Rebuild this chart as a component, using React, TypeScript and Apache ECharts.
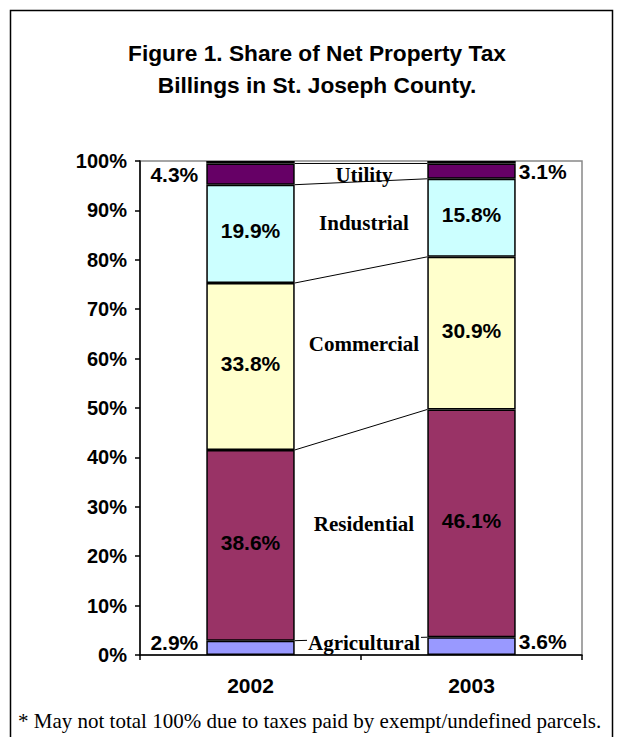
import React, { useEffect, useRef } from "react";
import * as echarts from "echarts";

const years = ["2002", "2003"];
const seriesNames = ["Agricultural", "Residential", "Commercial", "Industrial", "Utility", "Other"];
const agricultural = [2.9, 3.6];
const residential = [38.6, 46.1];
const commercial = [33.8, 30.9];
const industrial = [19.9, 15.8];
const utility = [4.3, 3.1];
const other = [0.5, 0.5];
const nameLabelLevels = [2.4, 26.5, 63.0, 87.5, 97.2];
const yTicks = { min: 0, max: 100, interval: 10 };

const colors = ["#9999FF", "#993366", "#FFFFCC", "#CCFFFF", "#660066", "#000000"];
const SANS = "Liberation Sans, Arial, sans-serif";
const SERIF = "Liberation Serif, Times New Roman, serif";
const BAR_FRAC = 0.4;

export default function App() {
  const ref = useRef<HTMLDivElement>(null);
  useEffect(() => {
    if (!ref.current) return;
    const chart = echarts.init(ref.current, null, { renderer: "svg" });
    const stacks = [agricultural, residential, commercial, industrial, utility, other];
    const tops: number[][] = [];
    const cum = [0, 0];
    for (let s = 0; s < 5; s++) {
      cum[0] += stacks[s][0];
      cum[1] += stacks[s][1];
      tops.push([0, +cum[0].toFixed(2), +cum[1].toFixed(2)]);
    }
    const labelFont = { fontFamily: SANS, fontWeight: "bold" as const, fontSize: 21, color: "#000" };
    const barSeries = stacks.map((vals, i) => {
      const outside = i === 0 || i === 4;
      const data = vals.map((v, j) => {
        if (outside) {
          return {
            value: v,
            label: {
              show: true,
              position: j === 0 ? "left" : "right",
              distance: j === 0 ? 8 : 3,
              offset: i === 0 ? [0, -5] : [0, 0],
            },
          };
        }
        return { value: v };
      });
      return {
        name: seriesNames[i],
        type: "bar",
        stack: "total",
        barWidth: BAR_FRAC * 100 + "%",
        itemStyle: { color: colors[i], borderColor: "#000", borderWidth: 1.5 },
        label: {
          show: i !== 5,
          position: "inside",
          offset: [0, -3],
          formatter: (p: any) => Number(p.value).toFixed(1) + "%",
          ...labelFont,
        },
        data,
        z: 2,
      };
    });
    const lineSeries = {
      type: "custom",
      coordinateSystem: "cartesian2d",
      encode: { x: 0, y: 1 },
      silent: true,
      z: 1,
      data: tops,
      renderItem: (params: any, api: any) => {
        const v1 = api.value(1);
        const v2 = api.value(2);
        const p1 = api.coord([0, v1]);
        const p2 = api.coord([1, v2]);
        const half = (api.size([1, 0])[0] * BAR_FRAC) / 2;
        return {
          type: "line",
          shape: { x1: p1[0] + half, y1: p1[1], x2: p2[0] - half, y2: p2[1] },
          style: { stroke: "#000", lineWidth: 1 },
        };
      },
    };
    const nameSeries = {
      type: "custom",
      coordinateSystem: "cartesian2d",
      encode: { x: 0, y: 1 },
      silent: true,
      z: 5,
      data: nameLabelLevels.map((lv, i) => [0, lv, i]),
      renderItem: (params: any, api: any) => {
        const lv = api.value(1);
        const idx = api.value(2);
        const p1 = api.coord([0, lv]);
        const p2 = api.coord([1, lv]);
        const name = seriesNames[idx];
        return {
          type: "text",
          x: (p1[0] + p2[0]) / 2 + 3,
          y: p1[1],
          z2: 10,
          style: {
            text: name,
            fontFamily: SERIF,
            fontWeight: "bold",
            fontSize: 21,
            fill: "#000",
            align: "center",
            verticalAlign: "middle",
            backgroundColor: name === "Utility" ? "transparent" : "#fff",
            padding: [0, 1],
          },
        };
      },
    };
    chart.setOption({
      animation: false,
      backgroundColor: "#fff",
      title: {
        text: "Figure 1. Share of Net Property Tax\nBillings in St. Joseph County.",
        left: 312,
        top: 32,
        textAlign: "center",
        textStyle: { fontFamily: SANS, fontWeight: "bold", fontSize: 22.7, lineHeight: 32, color: "#000" },
      },
      grid: { left: 140, right: 35, top: 161, bottom: 82, show: true, borderColor: "#888", borderWidth: 1.5, backgroundColor: "transparent" },
      xAxis: {
        type: "category",
        data: years,
        axisLine: { lineStyle: { color: "#000", width: 1.5 } },
        axisTick: { show: true, length: 5, interval: 0, lineStyle: { color: "#000", width: 1.5 } },
        axisLabel: { margin: 20, fontFamily: SANS, fontWeight: "bold", fontSize: 21, color: "#000" },
        splitLine: { show: false },
      },
      yAxis: {
        type: "value",
        min: yTicks.min,
        max: yTicks.max,
        interval: yTicks.interval,
        axisLine: { show: true, lineStyle: { color: "#000", width: 1.5 } },
        axisTick: { show: true, length: 5, lineStyle: { color: "#000", width: 1.5 } },
        axisLabel: { margin: 13, formatter: "{value}%", fontFamily: SANS, fontWeight: "bold", fontSize: 20, color: "#000" },
        splitLine: { show: false },
      },
      graphic: [
        {
          type: "rect",
          shape: { x: 10.5, y: 10.5, width: 602, height: 760 },
          style: { fill: "none", stroke: "#000", lineWidth: 1.5 },
          silent: true,
          z: -1,
        },
        {
          type: "text",
          x: 18,
          y: 721,
          style: {
            text: "* May not total 100% due to taxes paid by exempt/undefined parcels.",
            fontFamily: SERIF,
            fontSize: 21,
            fill: "#000",
            verticalAlign: "middle",
          },
        },
      ],
      series: [...barSeries, lineSeries, nameSeries],
    });
    return () => chart.dispose();
  }, []);
  return <div ref={ref} style={{ position: "absolute", left: 0, top: 0, width: 617, height: 737 }} />;
}
